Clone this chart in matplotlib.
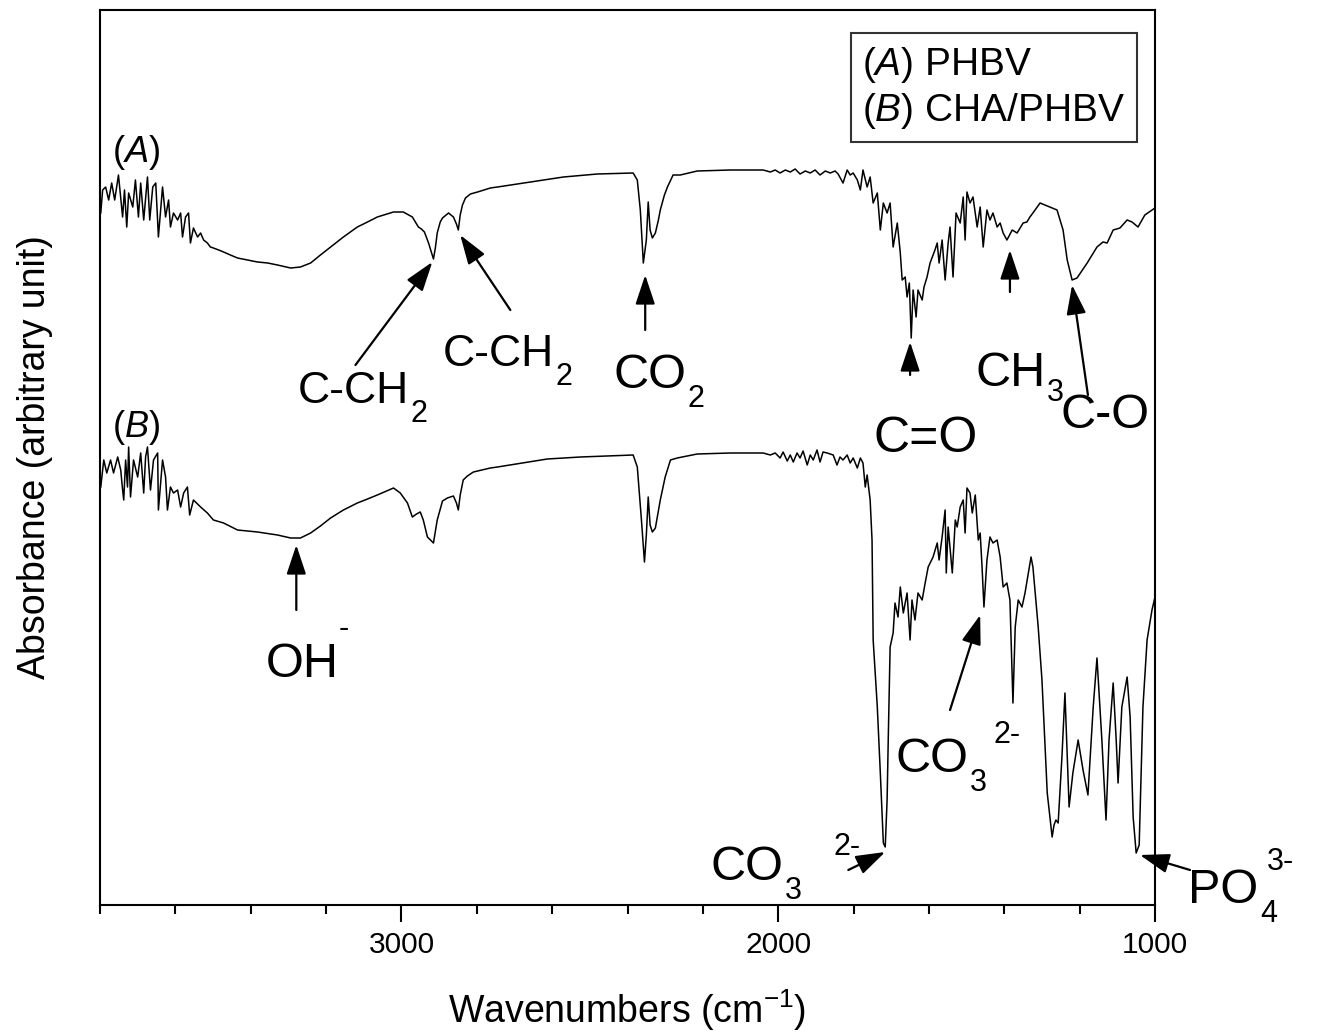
import matplotlib
matplotlib.use("Agg")
import matplotlib.pyplot as plt
from matplotlib.ticker import MultipleLocator

plt.rcParams['font.family'] = ['Liberation Sans', 'DejaVu Sans']
plt.rcParams['mathtext.fontset'] = 'custom'
plt.rcParams['mathtext.rm'] = 'Liberation Sans'
plt.rcParams['mathtext.it'] = 'Liberation Sans:italic'
plt.rcParams['mathtext.default'] = 'regular'

# ---------------- data (wavenumber cm-1, absorbance arbitrary) ----------------
wn_A = [3798, 3793, 3785, 3777, 3769, 3761, 3751, 3740, 3735, 3729, 3724, 3713, 3706, 3698,
        3692, 3684, 3674, 3668, 3660, 3652, 3645, 3634, 3626, 3618, 3613, 3605, 3594, 3586,
        3581, 3573, 3565, 3560, 3552, 3541, 3533, 3525, 3515, 3507, 3499, 3485, 3472, 3454,
        3435, 3408, 3382, 3355, 3329, 3294, 3268, 3241, 3215, 3188, 3154, 3117, 3090, 3064,
        3021, 2995, 2971, 2955, 2947, 2939, 2928, 2920, 2915, 2910, 2905, 2897, 2891, 2875,
        2862, 2854, 2849, 2844, 2838, 2830, 2817, 2798, 2764, 2745, 2658, 2570, 2480, 2385,
        2374, 2366, 2358, 2350, 2345, 2340, 2334, 2326, 2318, 2313, 2302, 2294, 2279, 2260,
        2215, 2127, 2040, 2021, 2008, 1995, 1981, 1968, 1955, 1942, 1928, 1915, 1902, 1889,
        1875, 1862, 1849, 1841, 1828, 1817, 1809, 1801, 1790, 1782, 1775, 1764, 1756, 1748,
        1737, 1729, 1721, 1711, 1703, 1695, 1684, 1676, 1671, 1663, 1658, 1652, 1647, 1642,
        1634, 1629, 1618, 1613, 1605, 1597, 1584, 1578, 1573, 1565, 1557, 1549, 1544, 1536,
        1528, 1517, 1509, 1504, 1499, 1491, 1483, 1472, 1464, 1456, 1446, 1438, 1430, 1419,
        1411, 1403, 1393, 1379, 1366, 1350, 1340, 1332, 1324, 1305, 1279, 1260, 1244, 1233,
        1220, 1207, 1180, 1154, 1138, 1127, 1111, 1093, 1074, 1061, 1045, 1027, 1000]
abs_A = [692, 715, 718, 705, 722, 705, 730, 688, 715, 678, 712, 698, 725, 688,
         722, 685, 728, 685, 718, 722, 668, 718, 688, 705, 678, 692, 685, 692,
         668, 688, 692, 662, 677, 668, 672, 665, 662, 658, 657, 655, 653, 650,
         647, 645, 643, 642, 640, 637, 638, 642, 650, 658, 668, 678, 683, 688,
         693, 693, 688, 678, 676, 673, 662, 652, 646, 657, 672, 683, 687, 692,
         688, 681, 675, 690, 700, 707, 711, 713, 717, 718, 723, 728, 731, 732,
         725, 695, 642, 665, 703, 675, 667, 672, 685, 695, 710, 718, 730, 730,
         734, 735, 735, 733, 735, 732, 735, 733, 736, 731, 734, 732, 735, 730,
         734, 732, 734, 731, 722, 735, 730, 732, 725, 715, 735, 718, 728, 702,
         712, 675, 702, 692, 702, 658, 682, 652, 625, 628, 608, 622, 567, 615,
         588, 615, 605, 618, 628, 642, 655, 662, 642, 665, 625, 662, 678, 628,
         692, 682, 708, 665, 713, 702, 708, 678, 698, 658, 695, 685, 692, 678,
         682, 672, 665, 675, 672, 682, 683, 688, 692, 702, 698, 695, 675, 645,
         625, 627, 642, 658, 663, 662, 675, 677, 685, 683, 678, 690, 697]

wn_B = [3798, 3790, 3782, 3772, 3764, 3753, 3745, 3740, 3737, 3732, 3727, 3724, 3719, 3711,
        3700, 3692, 3684, 3679, 3674, 3666, 3658, 3647, 3645, 3634, 3626, 3621, 3613, 3605,
        3594, 3586, 3578, 3568, 3562, 3552, 3533, 3515, 3499, 3472, 3435, 3382, 3329, 3294,
        3268, 3241, 3215, 3188, 3154, 3117, 3090, 3064, 3021, 3003, 2984, 2971, 2960, 2950,
        2942, 2931, 2923, 2915, 2905, 2891, 2878, 2862, 2854, 2849, 2844, 2836, 2825, 2809,
        2764, 2745, 2613, 2525, 2385, 2374, 2363, 2355, 2350, 2345, 2340, 2334, 2326, 2313,
        2300, 2286, 2268, 2215, 2127, 2040, 2021, 2008, 1995, 1987, 1976, 1968, 1960, 1950,
        1942, 1934, 1923, 1915, 1907, 1897, 1889, 1881, 1870, 1854, 1844, 1836, 1828, 1817,
        1809, 1801, 1790, 1782, 1775, 1769, 1764, 1756, 1751, 1748, 1737, 1729, 1721, 1716,
        1711, 1708, 1703, 1695, 1690, 1682, 1676, 1668, 1658, 1650, 1645, 1637, 1629, 1618,
        1610, 1602, 1589, 1578, 1573, 1565, 1557, 1554, 1549, 1538, 1530, 1525, 1517, 1509,
        1504, 1499, 1491, 1485, 1477, 1469, 1464, 1459, 1454, 1446, 1438, 1430, 1419, 1411,
        1403, 1393, 1385, 1377, 1371, 1363, 1353, 1345, 1329, 1324, 1310, 1300, 1286, 1273,
        1268, 1263, 1257, 1247, 1239, 1228, 1218, 1204, 1191, 1178, 1164, 1154, 1141, 1130,
        1122, 1111, 1103, 1098, 1088, 1074, 1066, 1058, 1050, 1042, 1032, 1021, 1008, 1000]
abs_B = [418, 445, 432, 445, 432, 448, 435, 415, 405, 445, 418, 458, 408, 445,
         428, 452, 412, 448, 458, 415, 445, 452, 395, 445, 428, 395, 418, 412,
         415, 398, 412, 418, 390, 405, 398, 392, 385, 382, 375, 373, 370, 367,
         367, 372, 379, 387, 395, 402, 406, 410, 417, 412, 402, 388, 391, 393,
         385, 368, 365, 362, 385, 404, 407, 409, 402, 395, 410, 425, 429, 433,
         437, 438, 446, 448, 450, 438, 385, 343, 370, 408, 380, 373, 377, 405,
         428, 445, 447, 451, 452, 452, 450, 452, 447, 453, 444, 450, 443, 452,
         447, 454, 440, 450, 445, 455, 443, 453, 452, 450, 440, 448, 445, 450,
         442, 447, 437, 447, 442, 418, 430, 405, 365, 265, 198, 132, 62, 58,
         105, 165, 258, 272, 302, 288, 318, 292, 312, 265, 305, 285, 312, 305,
         322, 338, 348, 362, 345, 368, 395, 332, 378, 332, 385, 378, 398, 405,
         372, 417, 412, 392, 410, 365, 372, 338, 298, 345, 368, 362, 365, 348,
         318, 322, 305, 202, 278, 305, 298, 312, 348, 338, 278, 225, 112, 68,
         80, 85, 82, 148, 212, 98, 132, 165, 135, 110, 198, 247, 165, 85,
         165, 222, 165, 122, 198, 228, 188, 88, 52, 60, 198, 265, 295, 308]

legend_labels = [r'($\mathit{A}$) PHBV', r'($\mathit{B}$) CHA/PHBV']
curve_tags = [r'($\mathit{A}$)', r'($\mathit{B}$)']
x_label = r'Wavenumbers (cm$^{-1}$)'
y_label = 'Absorbance (arbitrary unit)'

# ---------------- figure ----------------
fig = plt.figure(figsize=(13.21, 10.33), dpi=100)
ax = fig.add_axes([100 / 1321, 128 / 1033, 1055 / 1321, 895 / 1033])

lA, = ax.plot(wn_A, abs_A, color='black', lw=1.1, label=legend_labels[0])
lB, = ax.plot(wn_B, abs_B, color='black', lw=1.1, label=legend_labels[1])

ax.set_xlim(3800, 1000)
ax.set_ylim(0, 895)
ax.set_yticks([])
ax.xaxis.set_major_locator(MultipleLocator(1000))
ax.xaxis.set_minor_locator(MultipleLocator(200))
ax.tick_params(axis='x', which='major', direction='out', length=12, width=1.5,
               labelsize=21.5, pad=7)
ax.tick_params(axis='x', which='minor', direction='out', length=6.5, width=1.5)
for s in ax.spines.values():
    s.set_linewidth(1.5)

ax.set_xlabel(x_label, fontsize=27, labelpad=20)
ax.set_ylabel(y_label, fontsize=27, labelpad=34)

leg = ax.legend(handles=[lA, lB], loc='upper right', bbox_to_anchor=(0.983, 0.974),
                borderaxespad=0, handlelength=0, handletextpad=0, fontsize=28,
                frameon=True, fancybox=False, edgecolor='black', borderpad=0.3,
                labelspacing=0.15)
leg.get_frame().set_linewidth(1.5)
for h in leg.legend_handles:
    h.set_visible(False)

ax.text(3767, 743, curve_tags[0], fontsize=26, ha='left', va='baseline')
ax.text(3767, 468, curve_tags[1], fontsize=26, ha='left', va='baseline')

MAIN = 35
SMALL = 22


def chem(x, y, main, sub=None, sup=None, sub_dx=1, sub_dy=-14, sup_dx=4, sup_dy=20,
         size=MAIN):
    t = ax.text(x, y, main, fontsize=size, ha='left', va='baseline', clip_on=False)
    if sub:
        ax.annotate(sub, xy=(1, y), xycoords=(t, 'data'), xytext=(sub_dx, sub_dy),
                    textcoords='offset points', fontsize=SMALL, ha='left', va='baseline',
                    annotation_clip=False)
    if sup:
        ax.annotate(sup, xy=(1, y), xycoords=(t, 'data'), xytext=(sup_dx, sup_dy),
                    textcoords='offset points', fontsize=SMALL, ha='left', va='baseline',
                    annotation_clip=False)


def arrow(tail, head):
    ax.annotate('', xy=head, xytext=tail, annotation_clip=False,
                arrowprops=dict(arrowstyle='-|>,head_length=0.9,head_width=0.3',
                                color='black', lw=1.6, shrinkA=0, shrinkB=0,
                                mutation_scale=20))


# band labels
chem(3276, 502, 'C-CH', sub='2', size=32)
chem(2891, 539, 'C-CH', sub='2', size=32)
chem(2438, 517, 'CO', sub='2')
chem(1748, 453, 'C=O', size=36)
chem(1477, 519, 'CH', sub='3', sub_dy=-11)
chem(1250, 477, 'C-O')
chem(3361, 228, 'OH', sup='-', sup_dx=0, sup_dy=29)
chem(1690, 133, 'CO', sub='3', sup='2-', sup_dx=18, sup_dy=21)
chem(2180, 25, 'CO', sub='3', sup='2-', sup_dx=36, sup_dy=18)
chem(912, 2, 'PO', sub='4', sup='3-', sup_dx=6, sup_dy=24)

# arrows (tail -> band position)
arrow((3122, 540), (2918, 643))
arrow((2711, 595), (2844, 670))
arrow((2353, 575), (2353, 630))
arrow((1650, 530), (1650, 563))
arrow((1385, 613), (1385, 655))
arrow((1178, 510), (1220, 620))
arrow((3279, 295), (3279, 360))
arrow((1544, 195), (1464, 290))
arrow((1814, 35), (1716, 53))
arrow((907, 35), (1040, 50))

fig.savefig('out.png', dpi=100)
